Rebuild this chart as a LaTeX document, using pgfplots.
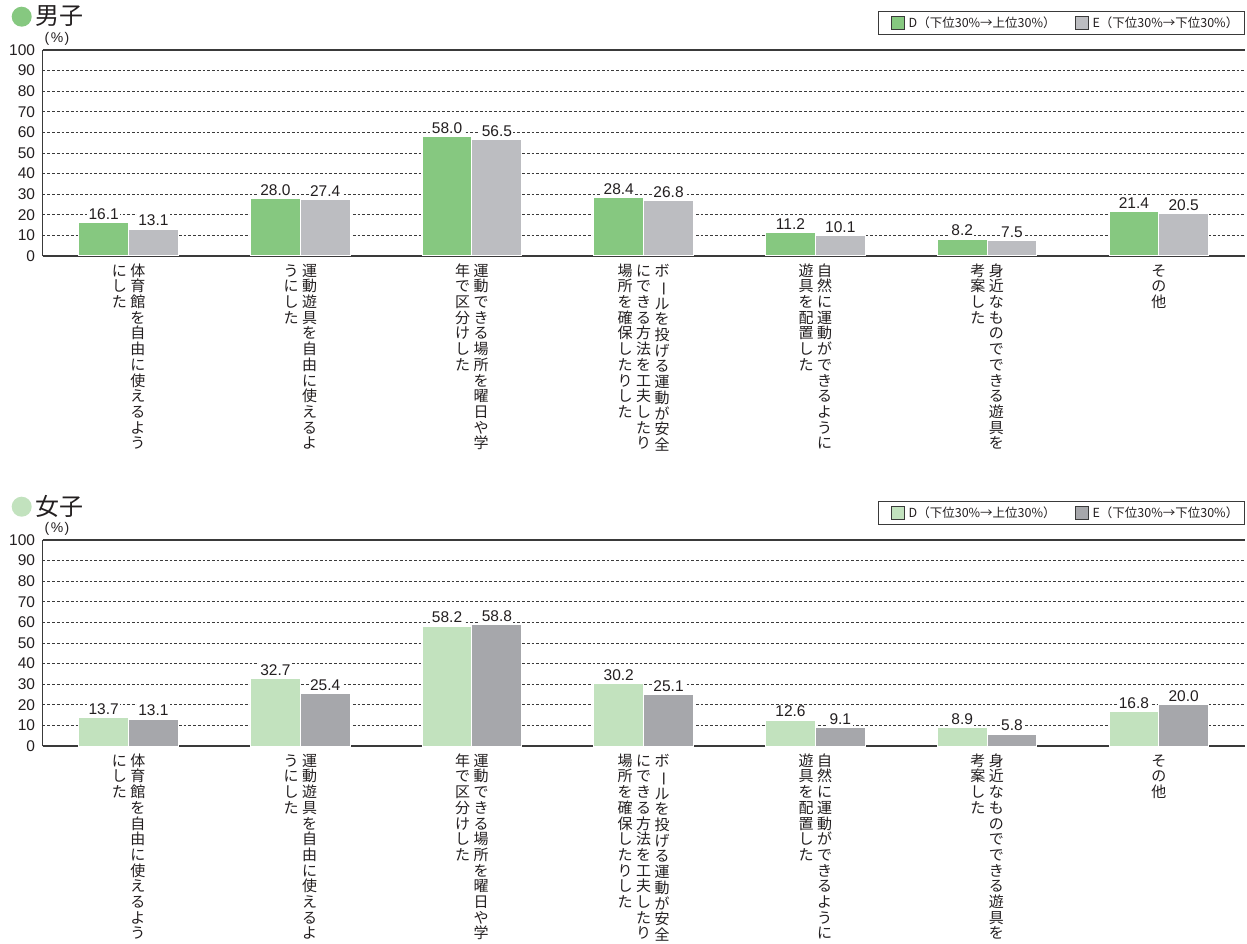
\documentclass[border=0pt]{standalone}
\usepackage{pgfplots}
\pgfplotsset{compat=1.18}
\usepackage{graphicx}
\usepackage{fontspec}
\setmainfont{Liberation Sans}
\newfontfamily\cjk{Noto Sans CJK JP}
\definecolor{mD}{HTML}{86C880}
\definecolor{mE}{HTML}{BCBDC1}
\definecolor{fD}{HTML}{C2E2BE}
\definecolor{fE}{HTML}{A6A7AB}
\definecolor{axc}{HTML}{3A3A3A}
\definecolor{txt}{HTML}{231F20}
% vertical (tategaki) text: one character per row, columns right to left
\def\vchar#1{\hbox to 15pt{\hss\vrule height 13pt depth 2.7pt width 0pt\ifx ー#1\rotatebox[origin=c]{-90}{ー}\else #1\fi\hss}}
\def\vstackloop#1{\ifx\relax#1\else\vchar{#1}\expandafter\vstackloop\fi}
\newcommand\colbox[1]{\vtop{\offinterlineskip\vstackloop#1\relax}}
\newcommand\tgi[1]{\hbox{\colbox{#1}}}
\newcommand\tgii[2]{\hbox{\colbox{#2}\hskip3.5pt\colbox{#1}}}
\newcommand\tgiii[3]{\hbox{\colbox{#3}\hskip3.5pt\colbox{#2}\hskip3.5pt\colbox{#1}}}
\pgfplotsset{
  panel/.style={
    scale only axis, width=1202pt, height=206pt,
    xmin=-0.5, xmax=6.5, ymin=0, ymax=100,
    ytick={0,10,...,100}, xtick={0,...,6},
    xticklabels={{\tgii{体育館を自由に使えるよう}{にした}},
                 {\tgii{運動遊具を自由に使えるよ}{うにした}},
                 {\tgii{運動できる場所を曜日や学}{年で区分けした}},
                 {\tgiii{ボールを投げる運動が安全}{にできる方法を工夫したり}{場所を確保したりした}},
                 {\tgii{自然に運動ができるように}{遊具を配置した}},
                 {\tgii{身近なものでできる遊具を}{考案した}},
                 {\tgi{その他}}},
    axis x line*=box, axis y line*=left,
    axis line style={-, draw=axc, line width=1.2pt},
    major tick length=0pt,
    ymajorgrids, major grid style={dashed, dash pattern=on 2.7pt off 2pt, draw=axc, line width=0.9pt},
    /pgf/number format/assume math mode=true,
    yticklabel style={font=\fontsize{15.5}{15.5}\selectfont, text=txt, inner sep=0pt},
    yticklabel shift=7.5pt,
    xticklabel style={anchor=north, inner sep=0pt,
      font=\cjk\fontsize{15}{15}\selectfont, text=txt},
    xticklabel shift=7pt,
    ybar=0pt, bar width=0.29,
    nodes near coords={\pgfmathprintnumber[fixed, fixed zerofill, precision=1]{\pgfplotspointmeta}},
    every node near coord/.append style={font=\fontsize{15.5}{15.5}\selectfont, text=txt,
      fill=white, inner sep=1.5pt, anchor=south, yshift=1pt},
    legend style={at={(1,1)}, anchor=south east, yshift=15pt,
      draw=axc, line width=0.8pt, font=\cjk\fontsize{12.5}{14}\selectfont, text=txt,
      inner xsep=4pt, inner ysep=3.5pt,
      /tikz/every even column/.append style={column sep=9pt}},
    legend columns=2,
    legend image code/.code={\draw[#1, draw=axc, line width=0.8pt] (8pt,-6.5pt) rectangle (21pt,6.5pt);
      \path (0pt,0pt) (23pt,0pt);},
    clip=false,
  },
  barst/.style={fill=#1, draw=white, line width=1pt},
}
\begin{document}
\begin{tikzpicture}
\useasboundingbox (0pt,0pt) rectangle (1247pt,943pt);
% ---------- top: boys
\fill[mD] (21.7pt,926.3pt) circle (10pt);
\node[anchor=west, inner sep=0pt, font=\cjk\fontsize{24}{24}\selectfont, text=txt] at (35.5pt,926.5pt) {男子};
\node[inner sep=0pt, font=\fontsize{14}{14}\selectfont, text=txt] at (57pt,904.5pt) {(\kern1.5pt\%\kern1.5pt)};
\begin{axis}[panel, at={(42.7pt,687pt)}, anchor=south west]
\addplot[barst=mD] coordinates {(0,16.1) (1,28.0) (2,58.0) (3,28.4) (4,11.2) (5,8.2) (6,21.4)};
\addplot[barst=mE] coordinates {(0,13.1) (1,27.4) (2,56.5) (3,26.8) (4,10.1) (5,7.5) (6,20.5)};
\legend{D（下位30\%→上位30\%）, E（下位30\%→下位30\%）}
\end{axis}
% ---------- bottom: girls
\fill[fD] (21.7pt,436.3pt) circle (10pt);
\node[anchor=west, inner sep=0pt, font=\cjk\fontsize{24}{24}\selectfont, text=txt] at (35.5pt,436.5pt) {女子};
\node[inner sep=0pt, font=\fontsize{14}{14}\selectfont, text=txt] at (57pt,414.5pt) {(\kern1.5pt\%\kern1.5pt)};
\begin{axis}[panel, at={(42.7pt,197pt)}, anchor=south west]
\addplot[barst=fD] coordinates {(0,13.7) (1,32.7) (2,58.2) (3,30.2) (4,12.6) (5,8.9) (6,16.8)};
\addplot[barst=fE] coordinates {(0,13.1) (1,25.4) (2,58.8) (3,25.1) (4,9.1) (5,5.8) (6,20.0)};
\legend{D（下位30\%→上位30\%）, E（下位30\%→下位30\%）}
\end{axis}
\end{tikzpicture}
\end{document}
